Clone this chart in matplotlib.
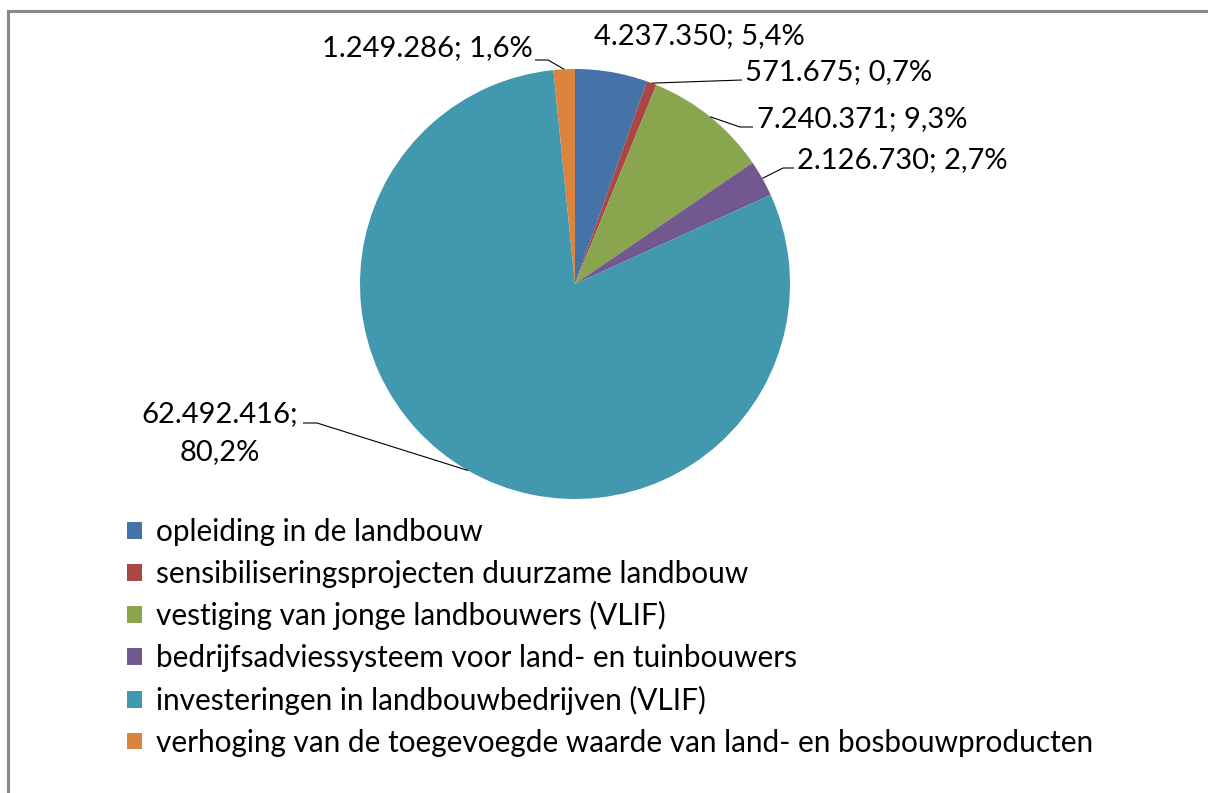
import matplotlib
matplotlib.use("Agg")
import matplotlib.pyplot as plt
from matplotlib.lines import Line2D
import numpy as np

# data
categories = [
    "opleiding in de landbouw",
    "sensibiliseringsprojecten duurzame landbouw",
    "vestiging van jonge landbouwers (VLIF)",
    "bedrijfsadviessysteem voor land- en tuinbouwers",
    "investeringen in landbouwbedrijven (VLIF)",
    "verhoging van de toegevoegde waarde van land- en bosbouwproducten",
]
values = [4237350, 571675, 7240371, 2126730, 62492416, 1249286]
colors = ["#4572A7", "#AA4643", "#89A54E", "#71588F", "#4198AF", "#DB843D"]

plt.rcParams["font.family"] = ["Lato", "DejaVu Sans"]

W, H = 1208, 793
fig = plt.figure(figsize=(W / 100, H / 100), dpi=100)
ax = fig.add_axes([0, 0, 1, 1])

cx, cy, r = 575, 284, 215

# y axis is inverted (pixel-like), so counterclock=True draws clockwise on screen
wedges, _ = ax.pie(values, colors=colors, startangle=-90, counterclock=True,
                   center=(cx, cy), radius=r, frame=True,
                   wedgeprops=dict(linewidth=0))
ax.set_xlim(0, W)
ax.set_ylim(H, 0)
ax.set_aspect("equal")
ax.axis("off")

total = sum(values)

def fmt_label(v, sep="; "):
    num = f"{v:,}".replace(",", ".")
    pct = f"{v / total * 100:.1f}".replace(".", ",")
    return f"{num}{sep}{pct}%"

# label placement: (x, y, ha, elbow, line start) in pixels
label_pos = [
    (594, 36, "left", None, None),
    (745, 72, "left", None, (742, 80)),
    (757, 119, "left", (740, 127), (753, 127)),
    (797, 160, "left", (783, 168), (794, 168)),
    (220, 433, "center", (317, 423), (303, 423)),
    (533, 48, "right", (548, 60), (535, 60)),
]

fs = 21
for i, (w, v) in enumerate(zip(wedges, values)):
    x, y, ha, elbow, start = label_pos[i]
    sep = ";\n" if i == 4 else "; "
    ax.text(x, y, fmt_label(v, sep), ha=ha, va="center", fontsize=fs,
            color="#000000", linespacing=1.6)
    if start is not None:
        mid = np.deg2rad((w.theta1 + w.theta2) / 2)
        px = cx + r * np.cos(mid)
        py = cy + r * np.sin(mid)
        xs = [start[0]] + ([elbow[0]] if elbow else []) + [px]
        ys = [start[1]] + ([elbow[1]] if elbow else []) + [py]
        ax.plot(xs, ys, color="#000000", lw=0.8, solid_capstyle="butt")

ax.legend(wedges, categories, loc="upper left",
          bbox_to_anchor=(127 / W, 1 - 518 / H), frameon=False,
          fontsize=21.4, handlelength=0.5, handleheight=0.5,
          handletextpad=0.47, labelspacing=0.46, borderpad=0,
          borderaxespad=0)

# outer frame (only left and top edges visible)
fig.add_artist(Line2D([8 / W, 8 / W], [0, 1 - 11 / H], transform=fig.transFigure,
                      color="#888888", lw=2.2))
fig.add_artist(Line2D([8 / W, 1], [1 - 11 / H, 1 - 11 / H], transform=fig.transFigure,
                      color="#888888", lw=2.2))

fig.savefig("out.png", dpi=100)
